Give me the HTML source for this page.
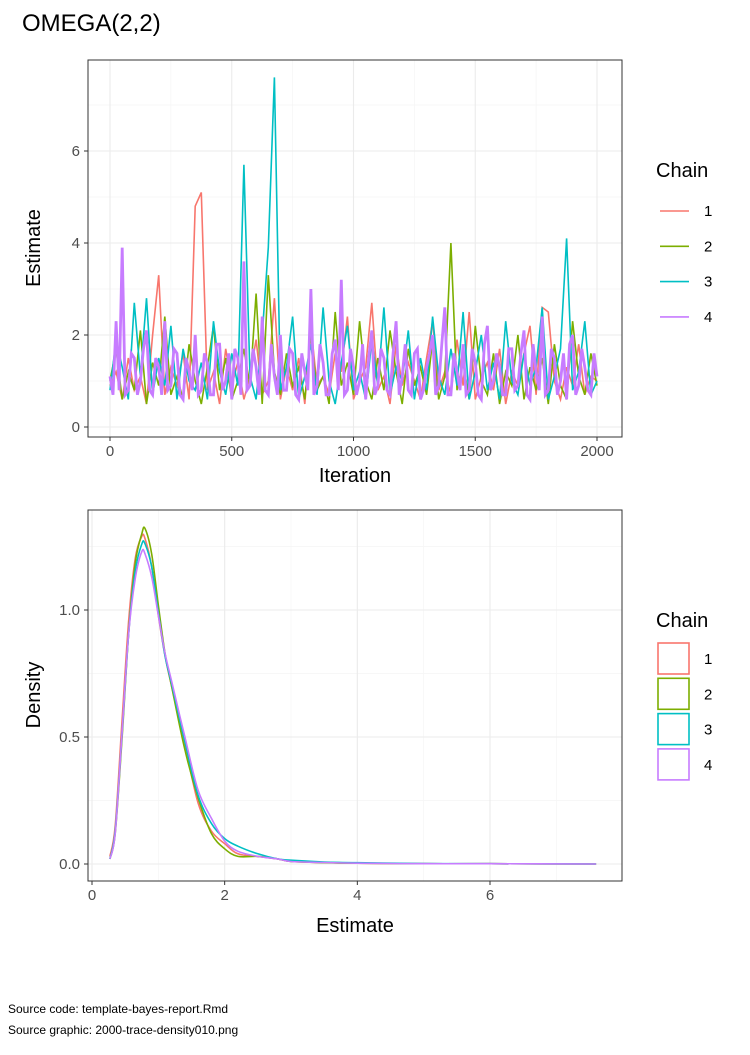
<!DOCTYPE html>
<html><head><meta charset="utf-8">
<style>
body{margin:0;background:#fff;width:750px;height:1050px;overflow:hidden;font-family:"Liberation Sans",sans-serif;}
svg text{font-family:"Liberation Sans",sans-serif;}
</style></head>
<body>
<svg id="chart" width="750" height="1050" xmlns="http://www.w3.org/2000/svg">
<text x="22" y="31" font-size="24" fill="#000">OMEGA(2,2)</text>
<text x="8" y="1013" font-size="12" fill="#000">Source code: template-bayes-report.Rmd</text>
<text x="8" y="1034" font-size="12" fill="#000">Source graphic: 2000-trace-density010.png</text>
</svg>
<script>
const chainNames=["1","2","3","4"];
const chainColors=["#F8766D","#7CAE00","#00BFC4","#C77CFF"];
const traceTicksX=[0,500,1000,1500,2000];
const traceTicksY=[0,2,4,6];
const traceC1=[0.9,1.2,0.6,1.5,0.8,1.1,0.5,2.0,3.3,0.7,1.3,0.9,1.6,0.6,4.8,5.1,0.8,1.2,0.5,1.7,0.9,1.4,0.6,1.1,1.9,0.7,1.0,2.8,0.6,1.3,0.8,1.5,0.5,2.2,0.9,1.1,0.7,1.6,1.2,2.4,0.6,1.0,1.3,2.7,0.8,1.1,0.5,1.8,0.9,1.4,1.0,0.6,1.5,2.3,0.8,1.2,0.7,1.9,0.9,2.5,0.6,1.1,1.4,0.8,1.7,0.5,1.2,0.9,1.6,2.2,0.7,2.6,2.5,1.0,0.6,1.3,0.9,1.8,0.7,1.1,1.0];
const traceC2=[1.0,1.7,0.6,1.2,0.8,2.1,0.5,1.4,0.9,2.4,0.7,1.1,0.6,1.8,1.0,0.5,1.3,2.2,0.8,1.5,0.6,1.0,1.7,0.9,2.9,0.5,3.3,1.2,0.7,1.6,0.9,1.3,0.6,2.0,0.8,1.1,0.5,2.5,0.9,1.4,0.7,2.3,1.0,0.6,1.5,0.8,2.1,1.2,0.5,1.7,0.9,1.3,0.7,1.9,0.6,1.1,4.0,0.8,1.4,0.6,2.2,1.0,0.7,1.6,0.5,1.2,0.9,2.0,0.6,1.3,0.8,1.5,0.5,1.8,0.9,0.6,2.3,1.1,0.7,1.6,0.9];
const traceC3=[0.8,1.9,1.3,0.6,2.7,1.1,2.8,0.7,1.5,0.9,2.2,0.6,1.7,1.0,0.8,1.4,0.6,2.3,1.2,0.7,1.6,0.9,5.7,1.1,0.6,2.0,3.9,7.6,0.8,1.3,2.4,0.6,1.1,1.8,0.7,2.6,1.0,0.5,1.4,2.2,0.8,1.2,0.6,1.9,0.9,2.6,0.7,1.3,1.0,2.1,0.6,1.5,0.8,2.4,1.1,0.7,1.7,0.9,2.5,0.6,1.2,2.0,0.8,1.4,0.6,2.3,1.0,0.7,1.6,0.9,1.3,2.6,0.6,1.1,1.7,4.1,0.8,1.2,2.3,0.7,1.0];
const traceC4=[1.1,0.7,2.3,0.8,3.9,0.7,0.8,1.6,1.5,0.7,1.0,1.7,2.1,0.8,0.7,1.5,1.3,0.7,2.3,0.8,0.9,1.7,1.6,0.7,0.6,1.5,1.2,0.8,2.0,0.7,0.8,1.6,1.4,0.7,0.7,1.8,1.8,0.8,1.0,1.6,0.6,1.7,1.5,0.7,3.6,0.8,0.9,1.7,1.3,0.7,2.4,0.8,0.7,1.8,1.1,0.7,2.0,0.8,0.8,1.7,1.6,0.7,0.6,1.6,1.2,0.8,3.0,0.7,0.9,1.8,1.4,0.7,0.7,1.6,1.9,0.8,3.2,0.7,0.8,1.7,1.3,0.7,1.0,1.8,0.6,1.5,2.1,0.7,0.9,1.7,1.5,0.8,0.7,1.6,2.3,0.7,1.1,1.8,0.8,0.7,1.6,1.7,0.6,0.8,1.3,1.6,2.0,0.7,0.9,1.8,2.6,0.7,0.7,1.6,1.2,0.8,1.8,0.7,0.8,1.7,1.4,0.7,0.6,1.8,2.2,0.8,1.0,1.6,1.3,0.7,0.7,1.7,1.7,0.8,0.9,1.6,2.1,0.7,0.6,1.8,1.2,0.8,2.4,0.7,0.8,1.7,1.5,0.7,1.0,1.6,0.6,1.8,2.0,0.7,0.9,1.7,1.3,0.8,0.7,1.6,1.1];
const densTicksX=[0,2,4,6];
const densTicksY=[0,0.5,1.0];
const densTickLabelsY=["0.0","0.5","1.0"];
const densX=[0.27,0.35,0.45,0.55,0.65,0.75,0.8,0.9,1.0,1.1,1.2,1.4,1.6,1.8,2.0,2.2,2.5,2.8,3.0,3.5,4.0,5.0,6.0,7.6];
const densC1=[0.03,0.15,0.55,0.95,1.2,1.29,1.28,1.17,0.98,0.82,0.70,0.47,0.24,0.13,0.08,0.04,0.03,0.02,0.01,0.006,0.003,0.001,0.001,0.0];
const densC2=[0.02,0.12,0.48,0.90,1.18,1.30,1.32,1.22,1.02,0.83,0.70,0.45,0.26,0.12,0.06,0.03,0.03,0.02,0.01,0.005,0.003,0.001,0.001,0.0];
const densC3=[0.02,0.13,0.50,0.90,1.15,1.26,1.26,1.17,0.99,0.82,0.71,0.48,0.27,0.16,0.10,0.07,0.04,0.02,0.015,0.008,0.005,0.002,0.001,0.0];
const densC4=[0.02,0.12,0.50,0.90,1.12,1.23,1.22,1.13,0.98,0.83,0.72,0.50,0.29,0.18,0.09,0.05,0.03,0.02,0.01,0.006,0.003,0.001,0.001,0.0];

const NS="http://www.w3.org/2000/svg";
const svg=document.getElementById("chart");
function mk(tag,attrs,parent){const e=document.createElementNS(NS,tag);for(const k in attrs)e.setAttribute(k,attrs[k]);(parent||svg).appendChild(e);return e;}

const tL=88,tR=622,tT=60,tB=437;
const tx=v=>110+(v/2000)*(597-110);
const ty=v=>427-v*46;
const g1=mk("g",{});


[250,750,1250,1750].forEach(v=>{const l=mk("line",{x1:tx(v),x2:tx(v),y1:tT,y2:tB,stroke:"#F5F5F5","stroke-width":0.7},g1);});
[1,3,5,7].forEach(v=>{const l=mk("line",{x1:tL,x2:tR,y1:ty(v),y2:ty(v),stroke:"#F5F5F5","stroke-width":0.7},g1);});
traceTicksX.forEach(v=>{const l=mk("line",{x1:tx(v),x2:tx(v),y1:tT,y2:tB,stroke:"#EBEBEB","stroke-width":1.1},g1);
 const t=mk("text",{x:tx(v),y:tB+19,"font-size":15,fill:"#4D4D4D","text-anchor":"middle"},g1);t.textContent=v;
 mk("line",{x1:tx(v),x2:tx(v),y1:tB,y2:tB+4,stroke:"#333","stroke-width":1},g1);});
traceTicksY.forEach(v=>{const l=mk("line",{x1:tL,x2:tR,y1:ty(v),y2:ty(v),stroke:"#EBEBEB","stroke-width":1.1},g1);
 const t=mk("text",{x:tL-8,y:ty(v)+5,"font-size":15,fill:"#4D4D4D","text-anchor":"end"},g1);t.textContent=v;
 mk("line",{x1:tL-4,x2:tL,y1:ty(v),y2:ty(v),stroke:"#333","stroke-width":1},g1);});
[traceC1,traceC2,traceC3,traceC4].forEach((arr,ci)=>{
 const pts=arr.map((v,i)=>tx(i*2000/(arr.length-1)).toFixed(1)+","+ty(v).toFixed(1)).join(" ");
 const p=mk("polyline",{points:pts,fill:"none",stroke:chainColors[ci],"stroke-width":ci==3?2.8:1.6},g1);
 
 
});
const b1=mk("rect",{x:tL,y:tT,width:tR-tL,height:tB-tT,fill:"none",stroke:"#333","stroke-width":1},g1);

let t;
t=mk("text",{x:355,y:482,"font-size":20,fill:"#000","text-anchor":"middle"});t.textContent="Iteration";

t=mk("text",{x:0,y:0,"font-size":20,fill:"#000","text-anchor":"middle",transform:"translate(40,248) rotate(-90)"});t.textContent="Estimate";


const dL=88,dR=622,dT=510,dB=881;
const dx=v=>92+v*(490-92)/6;
const dy=v=>864-v*254;
const g2=mk("g",{});


[1,3,5,7].forEach(v=>{const l=mk("line",{x1:dx(v),x2:dx(v),y1:dT,y2:dB,stroke:"#F5F5F5","stroke-width":0.7},g2);});
[0.25,0.75,1.25].forEach(v=>{const l=mk("line",{x1:dL,x2:dR,y1:dy(v),y2:dy(v),stroke:"#F5F5F5","stroke-width":0.7},g2);});
densTicksX.forEach(v=>{const l=mk("line",{x1:dx(v),x2:dx(v),y1:dT,y2:dB,stroke:"#EBEBEB","stroke-width":1.1},g2);
 const tt=mk("text",{x:dx(v),y:dB+19,"font-size":15,fill:"#4D4D4D","text-anchor":"middle"},g2);tt.textContent=v;
 mk("line",{x1:dx(v),x2:dx(v),y1:dB,y2:dB+4,stroke:"#333","stroke-width":1},g2);});
densTicksY.forEach((v,i)=>{const l=mk("line",{x1:dL,x2:dR,y1:dy(v),y2:dy(v),stroke:"#EBEBEB","stroke-width":1.1},g2);
 const tt=mk("text",{x:dL-8,y:dy(v)+5,"font-size":15,fill:"#4D4D4D","text-anchor":"end"},g2);tt.textContent=densTickLabelsY[i];
 mk("line",{x1:dL-4,x2:dL,y1:dy(v),y2:dy(v),stroke:"#333","stroke-width":1},g2);});
function smooth(xs,ys){let d="M"+xs[0]+","+ys[0];for(let i=0;i<xs.length-1;i++){const x0=xs[Math.max(0,i-1)],y0=ys[Math.max(0,i-1)],x1=xs[i],y1=ys[i],x2=xs[i+1],y2=ys[i+1],x3=xs[Math.min(xs.length-1,i+2)],y3=ys[Math.min(xs.length-1,i+2)];
 d+=" C"+(x1+(x2-x0)/6).toFixed(1)+","+(y1+(y2-y0)/6).toFixed(1)+" "+(x2-(x3-x1)/6).toFixed(1)+","+(y2-(y3-y1)/6).toFixed(1)+" "+x2.toFixed(1)+","+y2.toFixed(1);}return d;}
[densC1,densC2,densC3,densC4].forEach((arr,ci)=>{
 const p=mk("path",{d:smooth(densX.map(dx),arr.map(dy)),fill:"none",stroke:chainColors[ci],"stroke-width":1.6},g2);
 
 
});
const b2=mk("rect",{x:dL,y:dT,width:dR-dL,height:dB-dT,fill:"none",stroke:"#333","stroke-width":1},g2);

t=mk("text",{x:355,y:932,"font-size":20,fill:"#000","text-anchor":"middle"});t.textContent="Estimate";

t=mk("text",{x:0,y:0,"font-size":20,fill:"#000","text-anchor":"middle",transform:"translate(40,695) rotate(-90)"});t.textContent="Density";


t=mk("text",{x:656,y:177,"font-size":20,fill:"#000"});t.textContent="Chain";

chainNames.forEach((n,i)=>{const y=211+i*35.3;
 const l=mk("line",{x1:660,x2:689,y1:y,y2:y,stroke:chainColors[i],"stroke-width":1.6});
 
 const tt=mk("text",{x:704,y:y+5,"font-size":15,fill:"#000"});tt.textContent=n;
 });
t=mk("text",{x:656,y:627,"font-size":20,fill:"#000"});t.textContent="Chain";

chainNames.forEach((n,i)=>{const y=643+i*35.3;
 const r=mk("rect",{x:658,y:y,width:31,height:31,fill:"#fff",stroke:chainColors[i],"stroke-width":1.6});
 
 const tt=mk("text",{x:704,y:y+21,"font-size":15,fill:"#000"});tt.textContent=n;
 });
</script>
</body></html>
